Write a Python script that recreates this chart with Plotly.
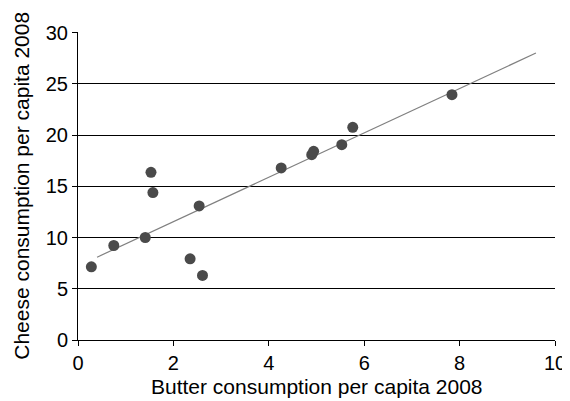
import plotly.graph_objects as go

# butter vs cheese consumption per capita, 2008
butter = [0.28, 0.75, 1.41, 1.53, 1.57, 2.35, 2.54, 2.61, 4.26, 4.90, 4.94, 5.53, 5.76, 7.84]
cheese = [7.14, 9.22, 10.0, 16.36, 14.38, 7.92, 13.08, 6.30, 16.79, 18.08, 18.41, 19.06, 20.75, 23.93]

# linear trendline endpoints as drawn
trend_x = [0.4, 9.6]
trend_y = [8.08, 28.0]

fig = go.Figure()
fig.add_scatter(x=trend_x, y=trend_y, mode='lines', line=dict(color='#808080', width=1.2), hoverinfo='skip')
fig.add_scatter(x=butter, y=cheese, mode='markers', marker=dict(color='#4a4a4a', size=11))

# page body has an 8px margin, so the figure is sized to fit inside the window
font = dict(family='Liberation Sans, Arial, sans-serif', size=20, color='black')
title_font = dict(family='Liberation Sans, Arial, sans-serif', size=21, color='black')
fig.update_layout(
    width=562, height=393,
    margin=dict(l=70, r=15, t=24, b=61),
    plot_bgcolor='white', paper_bgcolor='white',
    showlegend=False, font=font,
    xaxis=dict(range=[0, 10], tickvals=[0, 2, 4, 6, 8, 10], showgrid=False, zeroline=False,
               showline=True, linecolor='black', linewidth=1, ticks='outside', ticklen=5,
               tickcolor='black', automargin=False),
    yaxis=dict(range=[0, 30.05], tickvals=[0, 5, 10, 15, 20, 25, 30], showgrid=True, gridcolor='black',
               gridwidth=1, zeroline=False, showline=True, linecolor='black', linewidth=1,
               ticks='outside', ticklen=5, tickcolor='black', automargin=False),
)

# axis titles as annotations so they sit exactly where the reference has them
fig.add_annotation(text='Butter consumption per capita 2008', xref='paper', yref='paper',
                   x=0.5, y=-0.152, xanchor='center', yanchor='middle', showarrow=False, font=title_font)
fig.add_annotation(text='Cheese consumption per capita 2008', xref='paper', yref='paper',
                   x=-0.12, y=0.5, xanchor='center', yanchor='middle', textangle=-90,
                   showarrow=False, font=title_font)

fig.write_html("out.html")
